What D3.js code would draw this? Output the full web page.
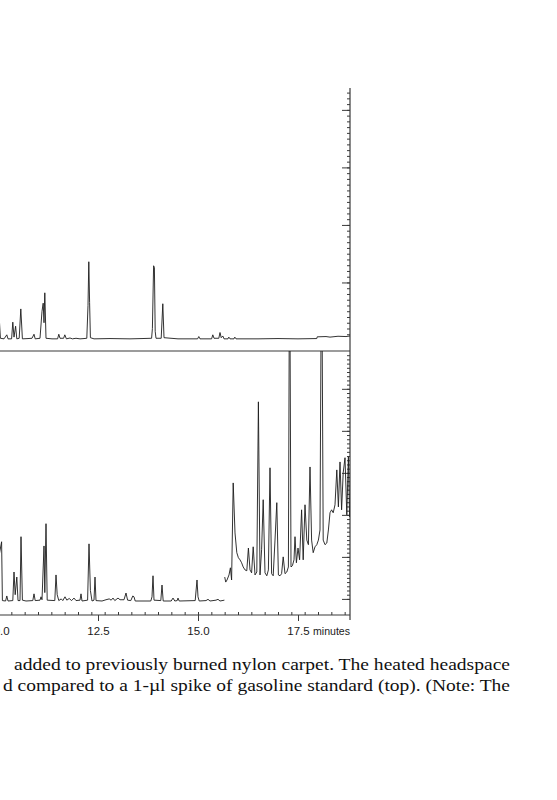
<!DOCTYPE html>
<html><head><meta charset="utf-8">
<script src="https://cdn.jsdelivr.net/npm/d3@7"></script>
<style>
html,body{margin:0;padding:0;background:#fff;}
svg{display:block;}
</style></head>
<body>
<svg id="chart" width="557" height="800"></svg>
<script>
// ---- data (retention time in minutes, detector response in arbitrary units) ----
const xTickValues = [10.0, 12.5, 15.0, 17.5];
const xTickLabels = ["10.0", "12.5", "15.0", "17.5"];
const xUnitLabel = "minutes";

// top trace: 1-µl gasoline standard
const topTrace = [
  [10.00,5.6],[10.02,5.2],[10.06,0.3],[10.15,0.2],[10.22,0.9],[10.25,0.2],[10.34,0.2],[10.37,3.1],[10.40,0.5],
  [10.44,2.4],[10.47,0.2],[10.53,0.3],[10.57,5.4],[10.61,0.2],[10.75,0.25],[10.85,0.3],[10.90,1.0],[10.93,0.2],
  [11.05,0.3],[11.10,5.0],[11.13,6.4],[11.15,3.0],[11.17,8.2],[11.20,0.3],[11.35,0.2],[11.49,0.2],[11.52,1.0],
  [11.55,0.3],[11.64,0.3],[11.67,0.9],[11.71,0.2],[11.80,0.35],[11.86,0.2],[11.95,0.3],[12.05,0.2],[12.15,0.25],
  [12.22,0.3],[12.25,6.0],[12.27,13.6],[12.29,6.5],[12.31,0.4],[12.40,0.2],[12.80,0.25],[13.30,0.2],[13.60,0.25],
  [13.84,0.3],[13.86,2.0],[13.89,12.9],[13.91,12.6],[13.93,1.5],[13.95,0.3],[14.08,0.3],[14.12,6.3],[14.15,0.4],
  [14.50,0.2],[14.99,0.2],[15.02,0.6],[15.05,0.2],[15.34,0.2],[15.37,0.9],[15.40,0.3],[15.52,0.3],[15.55,1.3],
  [15.58,0.4],[15.62,0.7],[15.65,0.2],[15.75,0.2],[15.77,0.5],[15.80,0.2],[15.90,0.2],[15.92,0.5],[15.95,0.2],
  [16.50,0.2],[17.00,0.25],[17.50,0.2],[17.97,0.25],[17.98,0.55],[18.20,0.6],[18.30,0.5],[18.50,0.65],[18.70,0.6],[18.80,0.7]
];

// bottom trace, early part: nylon carpet sample with gasoline
const bottomEarly = [
  [10.00,10.0],[10.04,11.0],[10.09,13.6],[10.11,-0.4],[10.19,-0.5],[10.22,0.7],[10.25,-0.5],[10.37,-0.4],[10.40,6.4],
  [10.43,1.0],[10.47,5.2],[10.50,-0.4],[10.55,-0.4],[10.575,14.8],[10.61,-0.3],[10.70,-0.5],[10.87,-0.4],[10.90,1.2],
  [10.93,-0.4],[11.05,-0.3],[11.075,0.5],[11.10,-0.2],[11.15,12.6],[11.17,1.5],[11.20,17.9],[11.23,-0.3],[11.42,-0.4],
  [11.45,5.7],[11.48,1.0],[11.52,-0.4],[11.58,0.0],[11.62,-0.4],[11.675,0.5],[11.72,-0.3],[11.78,0.1],[11.84,-0.4],
  [11.90,0.2],[11.95,-0.4],[12.05,-0.3],[12.075,1.2],[12.10,-0.5],[12.24,-0.3],[12.275,13.1],[12.31,2.0],[12.35,-0.5],
  [12.40,-0.3],[12.425,5.2],[12.45,-0.4],[12.60,-0.5],[12.70,-0.2],[12.78,0.0],[12.83,-0.3],[12.875,0.2],[12.92,-0.4],
  [13.00,0.2],[13.05,-0.2],[13.15,-0.2],[13.20,1.4],[13.24,-0.3],[13.32,-0.4],[13.37,0.7],[13.40,0.5],[13.43,-0.5],
  [13.82,-0.5],[13.85,0.5],[13.875,5.5],[13.90,-0.3],[14.07,-0.4],[14.10,3.3],[14.13,-0.5],[14.33,-0.5],[14.375,0.2],
  [14.42,-0.5],[14.48,-0.4],[14.50,0.2],[14.53,-0.5],[14.93,-0.4],[14.975,4.5],[15.00,0.5],[15.03,-0.5],[15.20,-0.4],
  [15.25,-0.1],[15.30,-0.5],[15.45,-0.3],[15.50,-0.1],[15.55,-0.5],[15.66,-0.3]
];

// bottom trace, late part (raised baseline, two peaks off scale)
const bottomLate = [
  [15.668,5.2],[15.693,4.0],[15.725,4.5],[15.775,5.7],[15.81,7.4],[15.84,4.5],[15.88,27.6],[15.925,15.7],[15.97,11.0],
  [16.01,9.8],[16.05,9.3],[16.09,8.6],[16.13,7.6],[16.175,6.9],[16.22,6.7],[16.26,12.1],[16.30,6.9],[16.34,6.2],
  [16.38,12.4],[16.425,5.7],[16.47,6.4],[16.51,46.9],[16.55,5.7],[16.59,11.7],[16.63,23.6],[16.675,6.2],[16.72,5.5],
  [16.76,6.9],[16.80,31.2],[16.84,6.0],[16.88,5.5],[16.925,14.0],[16.97,22.9],[17.01,5.7],[17.05,5.5],[17.09,6.0],
  [17.13,10.0],[17.175,6.0],[17.22,6.4],[17.26,7.6],[17.29,90],[17.325,7.6],[17.36,7.9],[17.40,9.3],[17.425,14.8],
  [17.46,8.6],[17.50,12.1],[17.54,9.3],[17.59,21.2],[17.63,9.3],[17.675,22.4],[17.72,14.0],[17.76,12.9],[17.80,31.4],
  [17.84,14.0],[17.88,11.0],[17.925,12.4],[17.97,12.9],[18.01,14.0],[18.05,16.4],[18.09,90],[18.13,14.0],[18.175,12.9],
  [18.22,13.3],[18.26,16.4],[18.30,20.5],[18.34,21.2],[18.38,20.5],[18.425,22.4],[18.47,30.7],[18.51,21.9],[18.55,32.6],
  [18.59,21.2],[18.63,30.0],[18.675,33.6],[18.72,20.0],[18.76,33.8],[18.79,19.5]
];

const captionLines = [
  " added to previously burned nylon carpet. The heated headspace",
  "d compared to a 1-µl spike of gasoline standard (top). (Note: The"
];

// ---- layout ----
const svg = d3.select("#chart");
const plotLeft = 0, plotRight = 350;
const topPanel = {top: 88, bottom: 351};
const botPanel = {top: 351, bottom: 615};

const x = d3.scaleLinear().domain([10.05, 18.8]).range([plotLeft, plotRight]);
const yTop = d3.scaleLinear().domain([0, 43.8]).range([340, topPanel.top]);
const yBot = d3.scaleLinear().domain([-0.5, 59]).range([601, botPanel.top]);

const ink = "#1c1c1c";
const axisInk = "#3a3a3a";

const defs = svg.append("defs");
defs.append("clipPath").attr("id", "clipTop").append("rect")
  .attr("x", plotLeft).attr("y", topPanel.top).attr("width", plotRight - plotLeft).attr("height", topPanel.bottom - topPanel.top);
defs.append("clipPath").attr("id", "clipBot").append("rect")
  .attr("x", plotLeft).attr("y", botPanel.top).attr("width", plotRight - plotLeft).attr("height", botPanel.bottom - botPanel.top);

// right-hand y axes (ticks pointing inward)
function rightAxis(scale, majors, minors, y0, y1) {
  const g = svg.append("g").attr("transform", `translate(${plotRight},0)`);
  g.append("g").call(d3.axisLeft(scale).tickValues(minors).tickSize(3).tickFormat("").tickSizeOuter(0))
    .call(s => s.select(".domain").remove());
  g.append("g").call(d3.axisLeft(scale).tickValues(majors).tickSize(8).tickFormat("").tickSizeOuter(0))
    .call(s => s.select(".domain").remove());
  g.selectAll("line").attr("stroke", axisInk).attr("stroke-width", 1);
  g.append("line").attr("x1", 0).attr("x2", 0).attr("y1", y0).attr("y2", y1)
    .attr("stroke", axisInk).attr("stroke-width", 1.2);
}
rightAxis(yTop, d3.range(10, 44, 10), d3.range(1, 44, 1), topPanel.top, topPanel.bottom);
rightAxis(yBot, d3.range(0, 59, 10), d3.range(0, 59, 1), botPanel.top, botPanel.bottom + 5);

// separator between panels
svg.append("line").attr("x1", plotLeft).attr("x2", plotRight).attr("y1", topPanel.bottom).attr("y2", topPanel.bottom)
  .attr("stroke", axisInk).attr("stroke-width", 1.2);

// bottom time axis
const labelFont = "Liberation Sans, Arial, sans-serif";
const xMinor = d3.range(0, 27).map(i => 10.0 + i / 3);
const gx = svg.append("g").attr("transform", `translate(0,${botPanel.bottom})`);
gx.append("g").call(d3.axisTop(x).tickValues(xMinor).tickSize(3).tickFormat("").tickSizeOuter(0))
  .call(s => s.select(".domain").remove());
gx.append("g").call(d3.axisBottom(x).tickValues(xTickValues).tickSize(6).tickSizeOuter(0)
    .tickFormat((d, i) => xTickLabels[i]))
  .call(s => s.select(".domain").remove())
  .call(s => s.selectAll("text").attr("font-family", labelFont)
    .attr("font-size", 11.5).attr("fill", "#1a1a1a").attr("y", 19.5).attr("dy", 0));
gx.selectAll("line").attr("stroke", axisInk);
gx.append("line").attr("x1", plotLeft).attr("x2", plotRight).attr("y1", 0).attr("y2", 0)
  .attr("stroke", axisInk).attr("stroke-width", 1.2);
gx.append("text").attr("x", 313).attr("y", 19.5)
  .attr("font-family", labelFont).attr("font-size", 11).attr("fill", "#1a1a1a")
  .attr("textLength", 37).attr("lengthAdjust", "spacingAndGlyphs")
  .text(xUnitLabel);

// traces
const lineTop = d3.line().x(d => x(d[0])).y(d => yTop(d[1]));
const lineBot = d3.line().x(d => x(d[0])).y(d => yBot(d[1]));
svg.append("path").datum(topTrace).attr("clip-path", "url(#clipTop)")
  .attr("d", lineTop).attr("fill", "none").attr("stroke", ink).attr("stroke-width", 0.9).attr("stroke-linejoin", "round");
svg.append("path").datum(bottomEarly).attr("clip-path", "url(#clipBot)")
  .attr("d", lineBot).attr("fill", "none").attr("stroke", ink).attr("stroke-width", 0.9).attr("stroke-linejoin", "round");
svg.append("path").datum(bottomLate).attr("clip-path", "url(#clipBot)")
  .attr("d", lineBot).attr("fill", "none").attr("stroke", ink).attr("stroke-width", 0.9).attr("stroke-linejoin", "round");

// caption text (continues off the left edge of the page crop)
const capX = [14, 3], capEnd = 510, capY = [670, 691];
captionLines.forEach((t, i) => {
  svg.append("text").attr("x", capX[i]).attr("y", capY[i])
    .attr("font-family", "Liberation Serif, 'DejaVu Serif', serif").attr("font-size", 17.5).attr("fill", "#111")
    .attr("textLength", capEnd - capX[i]).attr("lengthAdjust", "spacingAndGlyphs")
    .text(t.trim());
});
</script>
</body></html>
